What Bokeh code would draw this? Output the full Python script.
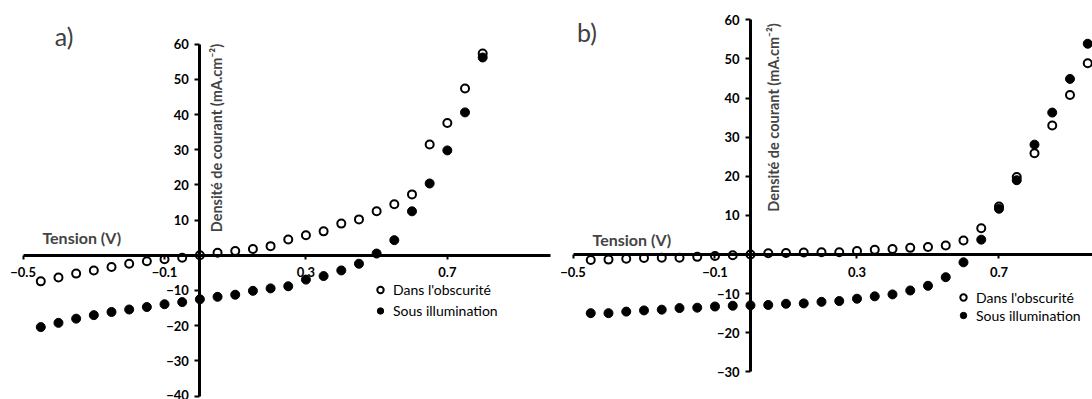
import math
from bokeh.plotting import figure
from bokeh.models import (Range1d, FixedTicker, Label, Legend, LegendItem,
                          ColumnDataSource, LinearAxis)
from bokeh.embed import file_html
from bokeh.resources import INLINE

# ---------------- data ----------------
xa = [-0.45, -0.40, -0.35, -0.30, -0.25, -0.20, -0.15, -0.10, -0.05, 0.00,
      0.05, 0.10, 0.15, 0.20, 0.25, 0.30, 0.35, 0.40, 0.45, 0.50,
      0.55, 0.60, 0.65, 0.70, 0.75, 0.80]
a_dark = [-7.4, -6.3, -5.2, -4.3, -3.3, -2.4, -1.7, -1.1, -0.7, 0.0,
          0.7, 1.2, 1.8, 2.6, 4.5, 5.7, 6.8, 9.0, 10.2, 12.5,
          14.5, 17.3, 31.5, 37.6, 47.4, 57.3]
a_light = [-20.4, -19.2, -18.0, -17.0, -16.1, -15.4, -14.7, -13.9, -13.3, -12.5,
           -11.8, -11.2, -10.1, -9.4, -8.8, -6.9, -5.9, -4.3, -2.4, 0.5,
           4.3, 12.5, 20.4, 29.8, 40.6, 56.2]

xb = [-0.45, -0.40, -0.35, -0.30, -0.25, -0.20, -0.15, -0.10, -0.05, 0.00,
      0.05, 0.10, 0.15, 0.20, 0.25, 0.30, 0.35, 0.40, 0.45, 0.50,
      0.55, 0.60, 0.65, 0.70, 0.75, 0.80, 0.85, 0.90, 0.95]
b_dark = [-1.4, -1.3, -1.1, -0.9, -0.8, -0.8, -0.6, -0.4, -0.2, 0.0,
          0.3, 0.4, 0.5, 0.6, 0.6, 0.9, 1.2, 1.4, 1.7, 1.9,
          2.3, 3.6, 6.7, 12.3, 19.8, 25.9, 33.0, 40.8, 48.9]
b_light = [-15.0, -15.0, -14.6, -14.3, -14.1, -13.7, -13.6, -13.3, -13.1, -13.0,
           -12.9, -12.6, -12.5, -12.1, -11.9, -11.3, -10.7, -10.2, -9.2, -8.0,
           -5.8, -2.0, 3.8, 11.7, 19.0, 28.1, 36.3, 44.9, 53.9]

x_ticks = [-0.5, -0.1, 0.3, 0.7]
ya_ticks = [-40, -30, -20, -10, 0, 10, 20, 30, 40, 50, 60]
yb_ticks = [-30, -20, -10, 0, 10, 20, 30, 40, 50, 60]

series_names = ["Dans l'obscurité", "Sous illumination"]
x_title = "Tension (V)"
y_title = "Densité de courant (mA.cm⁻²)"

FONT = "Lato"
W, H = 1092, 399

# one canvas holding both panels; panel b uses its own extra ranges
p = figure(width=W, height=H,
           x_range=Range1d(-0.564, 2.525), y_range=Range1d(-40.97, 72.39),
           x_axis_type=None, y_axis_type=None,
           min_border_left=0, min_border_right=0,
           min_border_top=0, min_border_bottom=0,
           output_backend="svg", toolbar_location=None)
p.extra_x_ranges = {"b": Range1d(-2.1127, 0.9634)}
p.extra_y_ranges = {"b": Range1d(-37.08, 64.96)}
p.outline_line_color = None
p.background_fill_color = "white"
p.border_fill_color = "white"


def style_axis(ax):
    ax.fixed_location = 0
    ax.axis_line_width = 3
    ax.axis_line_color = "black"
    ax.major_tick_line_width = 2
    ax.major_tick_line_color = "black"
    ax.minor_tick_line_color = None
    ax.major_tick_in = 0
    ax.major_label_text_font = FONT
    ax.major_label_text_font_style = "bold"
    ax.major_label_text_font_size = "13px"
    ax.major_label_text_color = "black"


def panel(rn, x, dark, light, y_ticks, xb_, yb_, tag, tag_pos, xt_pos, yt_pos,
          leg_loc, leg_h):
    kw = {} if rn is None else dict(x_range_name=rn, y_range_name=rn)
    src = ColumnDataSource(dict(x=x, dark=dark, light=light))
    r_dark = p.scatter("x", "dark", source=src, size=8, marker="circle",
                       fill_color="white", line_color="black", line_width=2, **kw)
    r_light = p.scatter("x", "light", source=src, size=9, marker="circle",
                        fill_color="black", line_color="black", line_width=1, **kw)

    xax = LinearAxis(ticker=FixedTicker(ticks=x_ticks), bounds=xb_, **kw)
    style_axis(xax)
    xax.major_tick_out = 4
    xax.major_label_standoff = 8
    p.add_layout(xax, "below")

    yax = LinearAxis(ticker=FixedTicker(ticks=y_ticks), bounds=yb_, **kw)
    style_axis(yax)
    yax.major_tick_out = 5
    yax.major_label_standoff = 6
    yax.major_label_overrides = {0: ""}
    p.add_layout(yax, "left")

    p.add_layout(Label(x=tag_pos[0], y=tag_pos[1], text=tag, text_font=FONT,
                       text_font_size="25px", text_color="#404040",
                       text_align="center", text_baseline="middle", **kw))
    p.add_layout(Label(x=xt_pos[0], y=xt_pos[1], text=x_title, text_font=FONT,
                       text_font_size="16px", text_font_style="bold",
                       text_align="left", text_baseline="middle", **kw))
    p.add_layout(Label(x=yt_pos[0], y=yt_pos[1], text=y_title, text_font=FONT,
                       text_font_size="14.5px", text_font_style="bold",
                       angle=math.pi / 2, text_align="center",
                       text_baseline="middle", **kw))

    leg = Legend(items=[LegendItem(label=series_names[0], renderers=[r_dark]),
                        LegendItem(label=series_names[1], renderers=[r_light])],
                 location=leg_loc, orientation="vertical",
                 glyph_width=16, glyph_height=leg_h, label_height=leg_h,
                 label_standoff=5, spacing=0, padding=0, margin=0,
                 border_line_color=None, background_fill_alpha=0,
                 label_text_font=FONT, label_text_font_size="14px",
                 label_text_color="black")
    p.add_layout(leg)


panel(None, xa, a_dark, a_light, ya_ticks, (-0.5, 0.991), (-40, 60),
      "a)", (-0.3844, 62.44), (-0.4455, 5.06), (0.047, 33.3), (372, 78), 21)
panel("b", xb, b_dark, b_light, yb_ticks, (-0.5, 0.9634), (-30, 60),
      "b)", (-0.4606, 56.86), (-0.445, 3.76), (0.0648, 35.04), (955, 75), 18)

open("out.html", "w").write(file_html(p, INLINE))
